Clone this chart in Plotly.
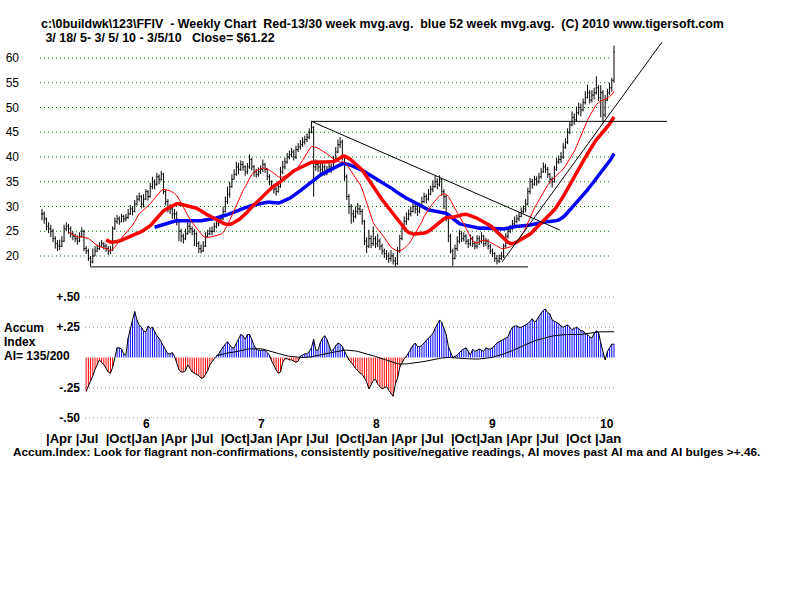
import numpy as np
import pandas as pd
import plotly.graph_objects as go

# ---------------- data ----------------
start_date = "2005-03-18"   # first weekly bar; last bar is 2010-03-05

closes = [
    28.5, 27.5, 26, 25.5, 25, 23.5, 22.5, 22, 22, 23,
    25.5, 26, 25.5, 24.5, 24, 23.5, 23, 24, 25, 21.5,
    21, 19.5, 18.8, 20, 21, 21.5, 22, 22.5, 22, 21.5,
    21, 21.2, 25.5, 27, 27.5, 27, 28, 27.5, 27.8, 28.5,
    29.5, 29, 30.5, 31.5, 32, 30.5, 31.5, 33, 32, 34,
    35, 34.5, 36, 35.5, 36.5, 33, 31, 30, 29.5, 28.5,
    28.5, 27, 25, 24, 23.5, 24.5, 26, 25.5, 25, 24.5,
    22.5, 21.5, 21, 22, 24, 24.5, 25, 25, 26, 26.5,
    27, 27.5, 29, 31, 32.5, 34, 35.5, 36.5, 38, 37.5,
    38.5, 38, 37, 38, 39.5, 38, 37, 36.5, 37, 37.5,
    38.5, 37.5, 36, 35, 34, 33.5, 33, 34, 37, 38,
    39, 40, 40.5, 41, 40, 41.5, 42, 42.5, 43, 43.5,
    44, 45, 46, 38, 38.5, 38, 37.5, 38, 37, 37.5,
    38, 37.5, 39.5, 41, 42.5, 43, 40, 36, 32, 30,
    28.5, 28, 29, 29.5, 29, 27, 23, 22, 23.5, 22.5,
    23.5, 22.5, 23, 22, 21, 20.5, 20, 19.5, 20, 19,
    18.5, 21, 23.5, 25.5, 27, 27.5, 28.5, 29, 30, 29.5,
    29, 30, 31, 32, 31.5, 32.5, 33.5, 34, 35, 34.5,
    35.5, 33, 32, 28, 24, 21, 19.5, 21.5, 23, 24.5,
    23.5, 24, 23, 22.5, 23.5, 22.5, 22, 23.5, 23, 24,
    22.5, 23, 22, 21, 20.5, 19.5, 19, 19.5, 20, 22,
    24, 25, 25.5, 26.5, 27, 27.5, 28, 29, 29.5, 30.5,
    33, 35, 34.5, 35.5, 35, 36, 37, 38, 37.5, 36.5,
    35.5, 35, 37.5, 39, 39.5, 40, 42, 43, 45, 46.5,
    48, 47.5, 49, 50, 49.5, 51, 52, 53, 51.5, 52.5,
    53, 54, 52, 53, 48.5, 51.5, 53, 54, 55.5, 61.22,
]

highs = [
    29.5, 29, 27.8, 26.8, 26.3, 25.5, 24, 23.2, 23.3, 24,
    26.3, 26.8, 26.5, 26, 25, 24.5, 24.2, 24.8, 25.8, 25.3,
    22, 21.5, 20, 21.5, 22, 22.3, 22.8, 23.2, 22.8, 22.5,
    22, 22, 26, 27.8, 28.3, 28, 28.5, 28.3, 28.5, 29.5,
    30.3, 30, 31.3, 32.3, 32.8, 32.3, 32.5, 33.5, 33.3, 34.8,
    36, 35.5, 36.8, 36.5, 37.2, 36.8, 33.5, 31.5, 30.5, 30,
    29.5, 29, 27.5, 25.5, 24.5, 25.5, 26.8, 26.7, 26, 25.5,
    24.8, 23, 22.3, 23, 24.8, 25.3, 25.8, 26, 26.7, 27.3,
    27.8, 28.3, 30, 32, 34, 35, 36.5, 37.5, 39, 38.8,
    39.3, 39.2, 38.3, 38.8, 40.5, 39.8, 38.4, 37.6, 37.9, 38.3,
    39.5, 38.8, 37.8, 36.5, 35.3, 34.5, 34, 35, 38, 39.2,
    39.8, 40.8, 41.3, 41.8, 41.5, 42.3, 42.8, 43.4, 44, 44.3,
    44.8, 45.8, 47.2, 46.2, 39.5, 39.3, 38.8, 38.8, 38.5, 38.2,
    38.8, 38.6, 40.2, 42, 43.5, 44, 43.5, 40.3, 36.5, 32.5,
    30.5, 29.3, 30, 30.7, 30.3, 29.5, 27.3, 23.8, 25.3, 24.2,
    26, 24, 24.5, 23.5, 22.5, 21.5, 21.2, 20.7, 21.2, 20.6,
    19.8, 21.8, 24.3, 26.3, 28, 28.8, 29.4, 30, 30.8, 30.6,
    30.2, 30.8, 32, 32.8, 32.5, 33.5, 34.2, 35.3, 36.2, 35.7,
    36.3, 35.6, 33.5, 32.3, 28.3, 24.5, 21.5, 22.3, 24, 25.3,
    25, 24.8, 24.4, 23.5, 24.3, 24, 23, 24.2, 24.1, 24.8,
    24.3, 23.7, 23.4, 22.4, 21.5, 20.8, 20.2, 20.3, 20.8, 22.5,
    24.6, 25.8, 26.3, 27.3, 28, 28.3, 28.8, 29.8, 30.2, 31.5,
    33.8, 35.8, 35.6, 36.2, 36.1, 36.8, 37.8, 38.9, 38.6, 38,
    36.8, 36, 38.2, 39.8, 40.3, 41, 42.8, 43.8, 45.8, 47.2,
    49.2, 48.8, 50.2, 51, 50.8, 51.8, 53.3, 54.6, 53.5, 53.5,
    54, 56.3, 54.5, 54.5, 53.5, 52.5, 53.8, 55, 56, 62.5,
]

lows = [
    27.2, 26.5, 25.2, 24.6, 23.8, 22.8, 21.5, 21, 21.2, 21.8,
    22.8, 25, 24.5, 23.7, 23.2, 22.8, 22.3, 22.8, 23.7, 21,
    20.4, 19, 18.0, 18.5, 20, 20.8, 21.2, 21.8, 21.3, 20.8,
    20.2, 20.4, 21, 25.3, 26.5, 26.3, 26.8, 26.8, 27, 27.5,
    28.3, 28.2, 28.8, 30.2, 31, 29.6, 29.8, 31.3, 31.2, 31.8,
    33.5, 33.5, 34.2, 34.5, 35.2, 32.5, 30.2, 28.8, 28.5, 27.5,
    27.5, 26.2, 23, 22.8, 22.5, 23.2, 24.3, 24.6, 24.2, 22,
    21.8, 20.6, 20.5, 20.8, 21.8, 23.7, 24.2, 24.2, 24.8, 25.6,
    26, 26.6, 27.2, 28.8, 30.5, 31.8, 33.8, 35.5, 36.2, 36.5,
    37.2, 37.2, 36.2, 36.5, 37.6, 37.3, 36, 35.8, 36, 36.6,
    37, 36.8, 35.3, 34.3, 33.3, 32.6, 32.2, 32.8, 33.8, 36.5,
    37.5, 38.6, 39.5, 40, 39.3, 39.6, 41, 41.5, 42, 42.5,
    43, 43.6, 44.8, 32, 37.2, 37, 36.2, 36.8, 36.2, 36.3,
    37, 36.8, 37.3, 39.2, 40.8, 41.8, 39.3, 35.2, 31.3, 28.5,
    26.5, 26.8, 27.6, 28.4, 28.3, 26.3, 22.2, 20.6, 21.6, 21.6,
    22, 21.6, 21.8, 21.2, 20.3, 19.6, 19.2, 18.6, 18.9, 18.3,
    17.9, 18.2, 20.6, 23.2, 25.2, 26.3, 27.2, 28, 28.8, 28.6,
    28.1, 28.6, 29.7, 30.7, 30.6, 31.2, 32.3, 32.9, 33.8, 33.5,
    34, 32.2, 29.5, 27, 22.8, 20.5, 18, 19.3, 21, 22.5,
    22.8, 22.9, 22.3, 21.6, 22, 21.8, 21.3, 21.5, 22.2, 22.5,
    21.8, 22, 21.3, 20.4, 19.8, 18.8, 18.3, 18.6, 19.2, 19.6,
    21.6, 23.5, 24.6, 25.2, 26, 26.6, 27, 27.8, 28.6, 28.8,
    30.2, 32.5, 33.6, 34.2, 34.2, 34.6, 35.6, 36.8, 36.8, 35.8,
    34.6, 33.8, 34.8, 37.2, 38.6, 38.8, 39.6, 41.6, 42.6, 44.6,
    46.2, 46.5, 47.2, 48.5, 48.2, 49.2, 50.6, 51.8, 50.8, 51,
    51.6, 52.6, 51.3, 48, 47, 48, 51.3, 52.6, 53.2, 55,
]

ai_first_week = 20
accum_index = [
    -0.28, -0.24, -0.19, -0.15, -0.10, -0.06, -0.02, -0.04, -0.06, -0.09,
    -0.12, -0.13, -0.08, 0.00, 0.08, 0.08, 0.07, 0.03, 0.02, 0.16,
    0.25, 0.31, 0.38, 0.31, 0.27, 0.25, 0.22, 0.21, 0.26, 0.24,
    0.25, 0.21, 0.18, 0.16, 0.13, 0.09, 0.06, 0.03, 0.03, 0.04,
    0.01, -0.04, -0.10, -0.12, -0.12, -0.11, -0.06, -0.09, -0.12, -0.13,
    -0.14, -0.15, -0.17, -0.17, -0.14, -0.11, -0.06, -0.03, -0.01, 0.01,
    0.03, 0.06, 0.09, 0.11, 0.13, 0.10, 0.08, 0.08, 0.12, 0.15,
    0.19, 0.18, 0.15, 0.19, 0.19, 0.15, 0.10, 0.07, 0.06, 0.06,
    0.06, 0.06, 0.04, 0.02, -0.03, -0.07, -0.10, -0.13, -0.12, -0.04,
    -0.01, -0.01, -0.02, -0.02, -0.03, -0.04, -0.03, 0.01, 0.02, 0.03,
    0.03, 0.05, 0.08, 0.15, 0.06, 0.06, 0.12, 0.16, 0.18, 0.15,
    0.10, 0.05, 0.07, 0.10, 0.12, 0.11, 0.09, 0.05, 0.01, -0.02,
    -0.04, -0.07, -0.09, -0.11, -0.13, -0.14, -0.17, -0.20, -0.26, -0.22,
    -0.19, -0.18, -0.22, -0.24, -0.26, -0.25, -0.24, -0.27, -0.30, -0.32,
    -0.22, -0.17, -0.08, -0.04, -0.01, 0.01, 0.04, 0.08, 0.10, 0.12,
    0.09, 0.09, 0.10, 0.12, 0.14, 0.16, 0.18, 0.20, 0.24, 0.28,
    0.31, 0.29, 0.24, 0.19, 0.09, 0.04, 0.00, 0.01, 0.02, 0.04,
    0.06, 0.07, 0.08, 0.05, 0.02, 0.07, 0.05, 0.06, 0.07, 0.06,
    0.05, 0.08, 0.07, 0.07, 0.08, 0.10, 0.12, 0.13, 0.14, 0.15,
    0.16, 0.17, 0.22, 0.25, 0.26, 0.26, 0.25, 0.25, 0.26, 0.27,
    0.28, 0.30, 0.32, 0.29, 0.31, 0.34, 0.37, 0.39, 0.40, 0.37,
    0.36, 0.31, 0.30, 0.29, 0.28, 0.26, 0.25, 0.26, 0.27, 0.25,
    0.23, 0.24, 0.25, 0.24, 0.22, 0.22, 0.20, 0.19, 0.17, 0.16,
    0.20, 0.22, 0.21, 0.12, 0.04, -0.02, 0.05, 0.08, 0.11, 0.11,
]

# trend lines: (week index, price) end points
support_line = [(21.7, 17.8), (220.0, 17.8)]
resistance_line = [(122.0, 47.2), (283.0, 47.2)]
down_line = [(122.0, 47.2), (234.5, 25.25)]
up_line = [(208.3, 18.8), (280.7, 63.2)]

price_ticks = [20, 25, 30, 35, 40, 45, 50, 55, 60]
ai_ticks = [0.50, 0.25, -0.25, -0.50]
ai_tick_text = ["+.50", "+.25", "-.25", "-.50"]
year_labels = ["6", "7", "8", "9", "10"]
year_values = [2006, 2007, 2008, 2009, 2010]
month_row = ("|Apr |Jul  |Oct|Jan |Apr |Jul  |Oct|Jan |Apr |Jul  |Oct|Jan "
             "|Apr |Jul  |Oct|Jan |Apr |Jul  |Oct |Jan")
title1 = ("c:\\0buildwk\\123\\FFIV  - Weekly Chart  Red-13/30 week mvg.avg.  "
          "blue 52 week mvg.avg.  (C) 2010 www.tigersoft.com")
title2 = " 3/ 18/ 5- 3/ 5/ 10 - 3/5/10   Close= $61.22"
footer = ("Accum.Index: Look for flagrant non-confirmations, consistently "
          "positive/negative readings, AI moves past AI ma and AI bulges >+.46.")
ai_label_lines = ["Accum", "Index", "AI= 135/200"]

# ---------------- derived series ----------------
n = len(closes)
weeks = np.arange(n)
dates = pd.date_range(start_date, periods=n, freq="7D")
close_s = pd.Series(closes)
opens = [closes[0]] + closes[:-1]
ma13 = close_s.rolling(13).mean()
ma30 = close_s.rolling(30).mean()
ma52 = close_s.rolling(52).mean()
ai_weeks = np.arange(ai_first_week, ai_first_week + len(accum_index))
ai_ma = pd.Series(accum_index).rolling(60).mean()

# ---------------- pixel geometry helpers ----------------
W, H = 800, 600
PX_PER_WEEK = 2.2085
X0 = 42.0                      # pixel of first bar


def xpx(px):
    return (px - X0) / PX_PER_WEEK


def ypaper(py):
    return 1 - py / H


PRICE_PX_PER = 4.95            # pixels per dollar, 20 at y=256


def price_at(py):
    return 20 + (256 - py) / PRICE_PX_PER


AI_PX_PER = 121.0              # pixels per 1.0 of AI, 0 at y=357.5


def ai_at(py):
    return (357.5 - py) / AI_PX_PER


def keep_spaces(s):
    # SVG text collapses runs of spaces; use non-breaking spaces to keep them
    return s.replace(" ", "\u00a0")


ARIAL = "Liberation Sans, Arial, sans-serif"


def bold(size):
    return dict(family=ARIAL, size=size, color="black", weight="bold")


fig = go.Figure()

# price bars
fig.add_trace(go.Ohlc(
    x=weeks, open=opens, high=highs, low=lows, close=closes,
    increasing=dict(line=dict(color="black", width=1)),
    decreasing=dict(line=dict(color="black", width=1)),
    tickwidth=0.45, xaxis="x", yaxis="y", showlegend=False, hoverinfo="skip"))

# moving averages
fig.add_trace(go.Scatter(x=weeks, y=ma52, mode="lines",
                         line=dict(color="#0000ff", width=3.5), xaxis="x", yaxis="y",
                         showlegend=False, hoverinfo="skip"))
fig.add_trace(go.Scatter(x=weeks, y=ma30, mode="lines",
                         line=dict(color="#ff0000", width=3.5), xaxis="x", yaxis="y",
                         showlegend=False, hoverinfo="skip"))
fig.add_trace(go.Scatter(x=weeks, y=ma13, mode="lines",
                         line=dict(color="#ff0000", width=1), xaxis="x", yaxis="y",
                         showlegend=False, hoverinfo="skip"))

# trend lines
for seg in (support_line, resistance_line, down_line, up_line):
    fig.add_trace(go.Scatter(x=[p[0] for p in seg], y=[p[1] for p in seg], mode="lines",
                             line=dict(color="black", width=1), xaxis="x", yaxis="y",
                             showlegend=False, hoverinfo="skip", cliponaxis=False))

# accumulation index stripes
pos_x, pos_y, neg_x, neg_y = [], [], [], []
for wk, v in zip(ai_weeks, accum_index):
    if v >= 0:
        pos_x += [wk, wk, None]
        pos_y += [0, v, None]
    else:
        neg_x += [wk, wk, None]
        neg_y += [0, v, None]
fig.add_trace(go.Scatter(x=pos_x, y=pos_y, mode="lines",
                         line=dict(color="#0000ff", width=1), xaxis="x", yaxis="y2",
                         showlegend=False, hoverinfo="skip"))
fig.add_trace(go.Scatter(x=neg_x, y=neg_y, mode="lines",
                         line=dict(color="#ff0000", width=1), xaxis="x", yaxis="y2",
                         showlegend=False, hoverinfo="skip"))
fig.add_trace(go.Scatter(x=ai_weeks, y=accum_index, mode="lines",
                         line=dict(color="black", width=1), xaxis="x", yaxis="y2",
                         showlegend=False, hoverinfo="skip"))
fig.add_trace(go.Scatter(x=ai_weeks, y=ai_ma, mode="lines",
                         line=dict(color="black", width=1), xaxis="x", yaxis="y2",
                         showlegend=False, hoverinfo="skip"))

# grid lines
shapes = []
for t in price_ticks:
    shapes.append(dict(type="line", xref="paper", yref="y", x0=40 / W, x1=610 / W, y0=t, y1=t,
                       line=dict(color="#008000", width=1, dash="1px,3px"), layer="below"))
for t in ai_ticks:
    shapes.append(dict(type="line", xref="paper", yref="y2", x0=85 / W, x1=615 / W, y0=t, y1=t,
                       line=dict(color="#909090", width=1, dash="1px,3px"), layer="below"))

annotations = []
annotations.append(dict(text=keep_spaces(title1), x=39 / W, y=ypaper(24), xref="paper",
                        yref="paper", xanchor="left", yanchor="middle", showarrow=False,
                        font=bold(12.45)))
annotations.append(dict(text=keep_spaces(title2), x=40 / W, y=ypaper(38), xref="paper",
                        yref="paper", xanchor="left", yanchor="middle", showarrow=False,
                        font=bold(12.45)))
annotations.append(dict(text=keep_spaces(month_row), x=44 / W, y=ypaper(438), xref="paper",
                        yref="paper", xanchor="left", yanchor="middle", showarrow=False,
                        font=bold(13.1)))
annotations.append(dict(text=keep_spaces(footer), x=11 / W, y=ypaper(452), xref="paper",
                        yref="paper", xanchor="left", yanchor="middle", showarrow=False,
                        font=bold(11.8)))
for lab, yr in zip(year_labels, year_values):
    jan_idx = (pd.Timestamp(f"{yr}-01-01") - dates[0]).days / 7.0
    annotations.append(dict(text=lab, x=jan_idx + 6, y=ypaper(424), xref="x", yref="paper",
                            xanchor="center", yanchor="middle", showarrow=False,
                            font=bold(12)))
for k, line in enumerate(ai_label_lines):
    annotations.append(dict(text=keep_spaces(line), x=2 / W, y=ypaper(328 + 14 * k),
                            xref="paper", yref="paper", xanchor="left", yanchor="middle",
                            showarrow=False, font=bold(12)))

fig.update_layout(
    width=W, height=H, margin=dict(l=0, r=0, t=0, b=0),
    paper_bgcolor="white", plot_bgcolor="white", showlegend=False,
    xaxis=dict(domain=[0, 1], range=[xpx(0), xpx(W)], visible=False,
               rangeslider=dict(visible=False), fixedrange=True),
    yaxis=dict(domain=[ypaper(275), ypaper(20)], range=[price_at(275), price_at(20)],
               anchor="free", position=19 / W, tickvals=price_ticks,
               ticktext=[str(t) for t in price_ticks], ticks="", showgrid=False,
               zeroline=False, showline=False,
               tickfont=dict(family=ARIAL, size=12, color="black")),
    yaxis2=dict(domain=[ypaper(425), ypaper(285)], range=[ai_at(425), ai_at(285)],
                anchor="free", position=80 / W, tickvals=ai_ticks, ticktext=ai_tick_text,
                ticks="", showgrid=False, zeroline=False, showline=False,
                tickfont=dict(family=ARIAL, size=12, color="black", weight="bold")),
    shapes=shapes, annotations=annotations,
)

fig.write_html("out.html")
